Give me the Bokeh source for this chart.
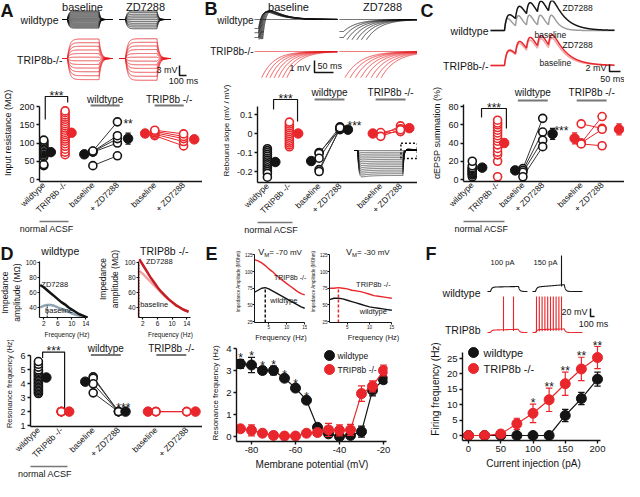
import math
import numpy as np
from bokeh.plotting import figure
from bokeh.layouts import row, column
from bokeh.models import Range1d, FixedTicker, LinearAxis
from bokeh.core.properties import value
from bokeh.embed import file_html
from bokeh.resources import INLINE

FONT = "Liberation Sans"
BLACK = "#141414"
RED = "#e8262b"
DARKRED = "#c41d24"
LIGHTRED = "#f4a3a4"
GRAY = "#9c9c9c"
BLUEGRAY = "#8fa5b6"
RULE = "#777777"
SLOT = 22.0

# ======================= DATA =======================
categories = ["wildtype", "TRIP8b -/-", "baseline", "+ ZD7288", "baseline", "+ ZD7288"]

# A: input resistance (MOhm)
A_wt = [38, 41, 62, 66, 70, 73, 76, 79, 82, 85, 88, 92, 96, 100, 104, 108]
A_trip = [68, 75, 83, 91, 98, 105, 111, 117, 123, 129, 135, 141, 147, 153, 159, 165, 171, 177, 183, 188]
A_wt_base = [38, 75, 76, 77, 78]
A_wt_zd = [65, 100, 112, 120, 158]
A_trip_base = [120, 124, 128, 132, 135]
A_trip_zd = [92, 104, 112, 118, 125]
A_means = [75, 128, 69, 112, 126, 110]
A_errs = [4, 7, 5, 15, 3, 5]

# B: rebound slope (mV/mV)
B_wt = [-0.08, -0.09, -0.10, -0.11, -0.12, -0.13, -0.14, -0.15, -0.16, -0.17, -0.18, -0.19, -0.20, -0.21, -0.23]
B_trip = [-0.07, -0.06, -0.05, -0.04, -0.03, -0.02, -0.01, 0.0, 0.01, 0.02, 0.03, 0.04, 0.05, 0.06]
B_wt_base = [-0.100, -0.105, -0.130, -0.190, -0.200]
B_wt_zd = [0.020, 0.035, 0.030, 0.025, 0.030]
B_trip_base = [0.000, -0.010, 0.005, -0.015]
B_trip_zd = [0.010, 0.040, 0.025, 0.020]
B_means = [-0.150, 0.000, -0.145, 0.020, 0.000, 0.028]
B_errs = [0.010, 0.010, 0.015, 0.005, 0.005, 0.008]

# C: aEPSP summation (%)
C_wt = [3, 5, 6, 7, 8, 9, 10, 11, 12, 13, 15, 20]
C_trip = [3, 20, 27, 30, 34, 38, 42, 45, 48, 51, 54, 57, 60, 62, 65]
C_wt_base = [12, 10, 8, 3]
C_wt_zd = [67, 52, 43, 36]
C_trip_base = [61, 40, 40, 39]
C_trip_zd = [56, 69, 55, 37]
C_means = [13, 40, 10, 50, 45, 55]
C_errs = [2, 4, 2, 6, 6, 6]

# D: resonance frequency (Hz)
D_wt = [3.3, 3.4, 3.5, 3.6, 3.7, 3.8, 3.9, 4.0, 4.1, 4.2, 4.3, 4.4, 4.5, 4.6, 4.7, 4.8, 4.9, 5.0, 5.2, 5.4, 5.6]
D_trip = [2.0, 2.0, 2.0, 2.0, 2.0, 2.0]
D_wt_base = [4.5, 4.4, 4.0, 3.35]
D_wt_zd = [2.0, 2.0, 2.0, 2.0]
D_trip_base = [2.0, 2.0, 2.0]
D_trip_zd = [2.0, 2.0, 2.0]
D_means = [4.45, 2.0, 4.15, 2.0, 2.0, 2.0]
D_errs = [0.1, 0.0, 0.2, 0.0, 0.0, 0.0]

# D insets: impedance amplitude (MOhm) vs frequency (Hz)
D_freq = [1, 2, 3, 4, 5, 6, 7, 8, 9, 10, 11, 12, 13, 14, 14.5]
D_wt_zd_imp = [70, 67, 63, 59, 55, 51, 47, 44, 40, 37, 34, 31, 29, 27, 26]
D_wt_base_imp = [40, 42, 43, 43, 42, 40, 38, 36, 34, 32, 30, 29, 27, 26, 25.5]
D_trip_zd_imp = [105, 97, 89, 81, 74, 67, 61, 56, 51, 47, 43, 40, 37, 35, 34]
D_trip_base_imp = [89, 85, 80, 75, 70, 65, 60, 55, 51, 47, 43, 40, 37, 35, 34]

# E insets
E_freq = [1, 2, 3, 4, 5, 6, 7, 8, 9, 10, 11, 12, 13, 14, 15]
E70_trip = [118, 116, 113, 109, 104, 100, 95, 90, 86, 82, 78, 74, 70, 67, 65]
E70_wt = [69, 72, 75, 76, 74, 71, 68, 65, 62, 59, 56, 53, 50, 47, 45]
E30_trip = [75, 75, 76, 75, 74, 72, 71, 70, 68, 66, 64, 63, 62, 61, 60]
E30_wt = [58, 60, 60, 59, 57, 55, 53, 51, 49, 47, 46, 45, 44, 43, 42]

# E main: resonance frequency vs membrane potential
E_vm = [-85, -80, -75, -70, -65, -60, -55, -50, -45, -40, -35, -30, -25, -20]
E_wt = [3.3, 3.25, 3.0, 3.0, 2.65, 2.2, 1.65, 0.42, 0.12, 0.0, 0.05, 0.22, 2.1, 2.58]
E_wt_err = [0.2, 0.35, 0.15, 0.2, 0.1, 0.15, 0.1, 0.1, 0.1, 0.05, 0.1, 0.25, 0.25, 0.1]
E_trip = [0.35, 0.28, 0.15, 0.05, 0.02, 0.02, 0.15, 0.18, 0.3, 0.28, 0.3, 1.95, 2.28, 3.0]
E_trip_err = [0.15, 0.25, 0.1, 0.1, 0.1, 0.1, 0.1, 0.1, 0.3, 0.25, 0.25, 0.35, 0.25, 0.25]
E_sig_vm = [-85, -80, -75, -70, -65, -60, -55]
legend_labels = ["wildtype", "TRIP8b -/-"]

# F: firing frequency vs current injection
F_pA = [0, 25, 50, 75, 100, 125, 150, 175, 200]
F_wt = [0, 0, 0, 0, 0, 0, 6.5, 12, 18.3]
F_wt_err = [0.4, 0.4, 0.4, 0.4, 0.4, 0.4, 2.0, 2.0, 2.3]
F_trip = [0, 0, 0.5, 3.8, 7.2, 11.6, 16.8, 21.6, 25.3]
F_trip_err = [0.4, 0.4, 0.6, 1.8, 3.0, 3.8, 3.8, 3.8, 3.6]
F_sig_pA = [100, 125, 150, 175, 200]
F_sig = ["*", "**", "**", "**", "**"]

# example traces (mV, ms)
A_wt_base_steps = [-2.6, -2.25, -1.9, -1.55, -1.2, -0.85, -0.5, -0.15, 0.2, 0.55, 0.9, 1.25, 1.6, 1.95, 2.3, 2.6]
A_wt_zd_steps = [-2.8, -2.25, -1.7, -1.15, -0.6, -0.05, 0.5, 1.05, 1.6, 2.15, 2.6]
A_trip_base_steps = [-6.4, -5.2, -4.0, -2.9, -1.8, -0.7, 0.4, 1.5, 2.6, 3.7, 4.8, 5.9]
A_trip_zd_steps = [-6.6, -5.4, -4.2, -3.0, -1.9, -0.8, 0.4, 1.5, 2.7, 3.8, 4.9, 6.0]
A_step_ms = 450

B_wt_base_depth = [0, 0.75, 1.1, 1.5, 2.2, 3.2, 4.5, 6.5, 9.0]
B_wt_base_rebound = [0.0, 1.6, 1.75, 1.9, 2.05, 2.2, 2.35, 2.5, 2.6]
B_wt_zd_depth = [0, 1.0, 1.5, 2.2, 3.2, 4.6, 6.5, 9.5]
B_trip_base_depth = [0, 2.4, 3.4, 4.8, 6.8, 9.5, 13.5, 19.0]
B_trip_zd_depth = [0, 2.4, 3.4, 4.8, 6.8, 9.5, 13.5, 19.0, 26.0]
B_inset_steps = [0, -1, -2, -3, -4, -5, -6, -7, -8, -9, -10, -11, -12, -13, -14]

C_interval_ms = 50
C_n_pulses = 5
C_wt_base_amp, C_wt_zd_amp = 3.4, 4.5
C_trip_base_amp, C_trip_zd_amp = 4.1, 4.4

F_wt100_spikes = []
F_wt150_spikes = [650]
F_trip100_spikes = [325, 575]
F_trip150_spikes = [25, 95, 165, 235, 305, 375, 445, 515, 585, 650]


# ======================= HELPERS =======================
def lin(v1, p1, v2, p2):
    k = (v2 - v1) / (p2 - p1)
    return lambda px: v1 + (px - p1) * k


def make_fig(w, h, xr, yr, left=0, right=0, top=0, bottom=0, axes=True):
    kw = {} if axes else dict(x_axis_location=None, y_axis_location=None)
    p = figure(width=w, height=h, x_range=Range1d(*xr), y_range=Range1d(*yr),
               output_backend="svg", toolbar_location=None, title=None,
               min_border_left=left, min_border_right=right,
               min_border_top=top, min_border_bottom=bottom, frame_align=False, **kw)
    p.outline_line_color = None
    p.background_fill_color = "white"
    p.border_fill_color = "white"
    for g in p.grid:
        g.visible = False
    return p


def style_axes(p, tick_fs=9, label_fs=9.5, lw=1.4, tick_out=3, std=2):
    for ax in p.axis:
        ax.axis_line_color = BLACK
        ax.axis_line_width = lw
        ax.major_tick_line_color = BLACK
        ax.major_tick_line_width = lw
        ax.major_tick_in = 0
        ax.major_tick_out = tick_out
        ax.minor_tick_line_color = None
        ax.major_label_text_font = FONT
        ax.major_label_text_font_size = f"{tick_fs}px"
        ax.major_label_text_color = BLACK
        ax.axis_label_text_font = FONT
        ax.axis_label_text_font_size = f"{label_fs}px"
        ax.axis_label_text_font_style = "normal"
        ax.axis_label_text_color = BLACK
        ax.major_label_standoff = std
        ax.axis_label_standoff = std + 1


def T(p, x, y, s, size, align="left", baseline="middle", color=BLACK, style="normal", **kw):
    p.text(x=[x], y=[y], text=[s], text_font=value(FONT), text_font_size=f"{size}px",
           text_align=align, text_baseline=baseline, text_color=color,
           text_font_style=style, **kw)


def errbars(p, x, y, e, color, cap, width=1.2):
    lo = [a - b for a, b in zip(y, e)]
    hi = [a + b for a, b in zip(y, e)]
    p.segment(x, lo, x, hi, line_color=color, line_width=width)
    p.segment([v - cap for v in x], hi, [v + cap for v in x], hi, line_color=color, line_width=width)
    p.segment([v - cap for v in x], lo, [v + cap for v in x], lo, line_color=color, line_width=width)


def dot_panel(w, h, left, right, bottom, ftop, fbot, fy, yticks, ytop, ylabel,
              xc, off, pools, means, errs, yover=None, osize=8, fsize=9.5, ylabel_fs=9):
    p = make_fig(w, h, (0, (w - left - right) / SLOT), (fy(fbot), fy(ftop)), left, right, 0, bottom)
    style_axes(p, 9, ylabel_fs)
    p.yaxis.ticker = FixedTicker(ticks=yticks)
    p.yaxis.bounds = (fy(fbot), ytop)
    p.yaxis.axis_label = ylabel
    if yover:
        p.yaxis.major_label_overrides = yover
    p.xaxis.ticker = FixedTicker(ticks=xc)
    p.xaxis.major_label_overrides = {x: c for x, c in zip(xc, categories)}
    p.xaxis.major_label_orientation = math.pi / 4
    p.xaxis.major_tick_line_color = None
    p.xaxis.major_tick_out = 0
    p.xaxis.major_label_standoff = 2
    p.xaxis.major_label_text_font_size = "8.5px"
    cols = [BLACK, RED, BLACK, BLACK, RED, RED]
    wb, wz, tb, tz = pools[2], pools[3], pools[4], pools[5]
    p.segment([xc[2]] * len(wb), wb, [xc[3]] * len(wz), wz, line_color="#333333", line_width=1)
    p.segment([xc[4]] * len(tb), tb, [xc[5]] * len(tz), tz, line_color=RED, line_width=1)
    for xi, vals, col in zip(xc, pools, cols):
        p.scatter([xi] * len(vals), vals, size=osize, marker="circle", fill_color="white",
                  line_color=col, line_width=1.6)
    mx = [a + b for a, b in zip(xc, off)]
    errbars(p, mx, means, errs, cols, 0.12)
    p.scatter(mx, means, size=fsize, marker="circle", fill_color=cols, line_color=cols)
    return p, mx


def bracket(p, x0, x1, ytop, y0, y1, s="***"):
    p.line([x0, x0, x1, x1], [y0, ytop, ytop, y1], line_color=BLACK, line_width=1.2)
    T(p, (x0 + x1) / 2, ytop, s, 12, "center", "alphabetic", y_offset=-1)


def groups(p, xc, ytext, yline, half=0.68):
    for i0, s in [(2, "wildtype"), (4, "TRIP8b -/-")]:
        cx = (xc[i0] + xc[i0 + 1]) / 2
        T(p, cx, ytext, s, 10, "center", "middle")
        p.segment([cx - half], [yline], [cx + half], [yline], line_color=RULE, line_width=2)


def acsf(p, x0, x1):
    # second bottom axis: a short rule under the first two categories, labelled "normal ACSF"
    c = (x0 + x1) / 2
    ax = LinearAxis(bounds=(x0, x1), ticker=FixedTicker(ticks=[c]),
                    major_label_overrides={c: "normal ACSF"},
                    axis_line_color=RULE, axis_line_width=1.5,
                    major_tick_line_color=None, minor_tick_line_color=None, major_tick_out=0,
                    major_label_text_font=FONT, major_label_text_font_size="9px",
                    major_label_text_color=BLACK, major_label_standoff=2)
    p.add_layout(ax, "below")


def step_family(t, t_on, dur, levels, tau, offset):
    xs, ys = [], []
    for ss in levels:
        v = np.zeros_like(t)
        on = (t >= t_on) & (t < t_on + dur)
        dt = t[on] - t_on
        v[on] = ss * (1 - np.exp(-dt / tau))
        v_end = v[on][-1]
        post = t >= t_on + dur
        v[post] = v_end * np.exp(-(t[post] - t_on - dur) / tau)
        xs.append(t.tolist())
        ys.append((v + offset).tolist())
    return xs, ys


def rebound_family(t, t_rel, depths, boosts, tau, tau_r, tau_d, floor, offset):
    xs, ys = [], []
    for A, B in zip(depths, boosts):
        dt = np.clip(t - t_rel, 0, None)
        v = -A * np.exp(-dt / tau) + B * (np.exp(-dt / tau_d) - np.exp(-dt / tau_r))
        v = np.where(v < floor, np.nan, v)
        xs.append(t.tolist())
        ys.append((v + offset).tolist())
    return xs, ys


def epsp_train(t, onsets, amp, tau_r, tau_d, offset):
    tp = math.log(tau_d / tau_r) * tau_d * tau_r / (tau_d - tau_r)
    norm = math.exp(-tp / tau_d) - math.exp(-tp / tau_r)
    v = np.zeros_like(t)
    for o in onsets:
        dt = t - o
        m = dt > 0
        v[m] += amp * (np.exp(-dt[m] / tau_d) - np.exp(-dt[m] / tau_r)) / norm
    return v + offset


def spike_trace(t, t_on, dur, ss, tau, ramp, spikes, peak, offset):
    v = np.zeros_like(t)
    on = (t >= t_on) & (t < t_on + dur)
    dt = t[on] - t_on
    v[on] = ss * (1 - np.exp(-dt / tau)) + ramp * dt / dur
    v_end = v[on][-1]
    post = t >= t_on + dur
    v[post] = v_end * np.exp(-(t[post] - t_on - dur) / tau)
    for s in spikes:
        i = int(np.searchsorted(t, t_on + s))
        v[i] = peak
        if i + 1 < len(v):
            v[i + 1] = v[i - 1] - 4
    return v + offset


def scalebar(p, x0, y0, dx, dy, color=BLACK):
    p.line([x0, x0, x0 + dx], [y0 + dy, y0, y0], line_color=color, line_width=1.5)


# ======================= PANEL A =======================
XA = lambda px: (px - 8) / 0.07
YA = lambda py: -(py - 8) / 3.3
pA_tr = make_fig(202, 84, (0, 202 / 0.07), (-84 / 3.3, 0), axes=False)
tA1 = np.arange(XA(70), XA(120), 1.0)
tA2 = np.arange(XA(127), XA(178), 1.0)
for tt, on, levels, tau, off, col in [
        (tA1, XA(75), A_wt_base_steps, 18, YA(27), BLACK),
        (tA2, XA(133), A_wt_zd_steps, 22, YA(27), BLACK),
        (tA1, XA(75), A_trip_base_steps, 30, YA(66), RED),
        (tA2, XA(133), A_trip_zd_steps, 30, YA(66), RED)]:
    xs, ys = step_family(tt, on, A_step_ms, levels, tau, off)
    pA_tr.multi_line(xs, ys, line_color=col, line_width=0.8)
scalebar(pA_tr, XA(187), YA(83), 100, 3)
T(pA_tr, XA(185), YA(77), "3 mV", 9, "right")
T(pA_tr, XA(191), YA(88), "100 ms", 9, "center")
T(pA_tr, XA(90), YA(8), "baseline", 11, "center", "top")
T(pA_tr, XA(153), YA(8), "ZD7288", 11, "center", "top")
T(pA_tr, XA(66), YA(27), "wildtype", 10.5, "right")
T(pA_tr, XA(70), YA(67), "TRIP8b-/-", 10.5, "right")
T(pA_tr, XA(8), YA(8), "A", 18, "left", "top", style="bold")

fyA = lin(200, 114, 0, 187)
xcA = [0.2, 1.2, 2.5, 3.65, 5.4, 6.75]
offA = [0.33, 0.3, -0.4, 0.5, -0.45, 0.5]
pA, mxA = dot_panel(202, 156, 34, 0, 59, 92, 189, fyA, [0, 50, 100, 150, 200], 200,
                    "Input resistance (MΩ)", xcA, offA,
                    [A_wt, A_trip, A_wt_base, A_wt_zd, A_trip_base, A_trip_zd], A_means, A_errs)
bracket(pA, 0.27, 1.32, fyA(104), fyA(127), fyA(110))
groups(pA, xcA, fyA(107), fyA(113))
T(pA, mxA[3], fyA(131), "**", 12, "center", "alphabetic")
acsf(pA, -0.68, 1.36)

# ======================= PANEL B =======================
XB = lambda px: (px - 210) / 0.38
YB = lambda py: -(py - 8) / 12.0
pB_tr = make_fig(215, 78, (0, 215 / 0.38), (-78 / 12.0, 0), axes=False)
tB1 = np.arange(XB(262), XB(345), 0.5)
tB2 = np.arange(XB(347), XB(425), 0.5)
xs, ys = rebound_family(tB1, XB(266), B_wt_base_depth, B_wt_base_rebound, 9, 10, 35, -1.7, YB(27))
pB_tr.multi_line(xs, ys, line_color=BLACK, line_width=0.8)
xs, ys = rebound_family(tB2, XB(351), B_wt_zd_depth, [0] * len(B_wt_zd_depth), 35, 15, 70, -1.7, YB(27))
pB_tr.multi_line(xs, ys, line_color=BLACK, line_width=0.8)
xs, ys = rebound_family(tB1, XB(268), B_trip_base_depth, [0] * len(B_trip_base_depth), 32, 15, 70, -2.2, YB(59))
pB_tr.multi_line(xs, ys, line_color=RED, line_width=0.8)
xs, ys = rebound_family(tB2, XB(351), B_trip_zd_depth, [0] * len(B_trip_zd_depth), 40, 15, 70, -2.2, YB(59))
pB_tr.multi_line(xs, ys, line_color=RED, line_width=0.8)
scalebar(pB_tr, XB(322), YB(80), 50, 1)
T(pB_tr, XB(318), YB(75), "1 mV", 9, "right")
T(pB_tr, XB(325), YB(73), "50 ms", 9, "left")
T(pB_tr, XB(296), YB(8), "baseline", 11, "center", "top")
T(pB_tr, XB(390), YB(8), "ZD7288", 11, "center", "top")
T(pB_tr, XB(261), YB(28), "wildtype", 10, "right")
T(pB_tr, XB(261), YB(59), "TRIP8b-/-", 10, "right")
T(pB_tr, XB(212), YB(6), "B", 18, "left", "top", style="bold")

fyB = lin(0.1, 122, -0.2, 179)
xcB = [0.45, 1.45, 2.8, 3.75, 5.6, 6.5]
offB = [0.36, 0.4, -0.36, 0.36, -0.36, 0.4]
pB, mxB = dot_panel(215, 162, 55, 0, 58, 86, 190, fyB, [-0.2, -0.1, 0, 0.1], 0.14,
                    "Rebound slope (mV / mV)", xcB, offB,
                    [B_wt, B_trip, B_wt_base, B_wt_zd, B_trip_base, B_trip_zd], B_means, B_errs,
                    yover={-0.2: "-0.2", -0.1: "-0.1", 0: "0", 0.1: "0.1"}, ylabel_fs=8)
bracket(pB, 0.73, 1.82, fyB(107), fyB(117), fyB(129))
groups(pB, xcB, fyB(100), fyB(107))
T(pB, mxB[3] + 0.3, fyB(133), "***", 12, "center", "alphabetic")
acsf(pB, -0.36, 1.6)
# inset: hyperpolarizing step family
ins_ppm = (425 - 362) / 780.0
ins_ppv = (183 - 158) / 14.0
pB.extra_x_ranges = {"ix": Range1d(-(362 - 265) / ins_ppm, 780)}
pB.extra_y_ranges = {"iy": Range1d(-(190 - 158) / ins_ppv, (158 - 86) / ins_ppv)}
t_in = np.arange(0, 781, 2.0)
xs, ys = [], []
for L in B_inset_steps:
    v = np.zeros_like(t_in)
    on = (t_in >= 40) & (t_in < 600)
    dt = t_in[on] - 40
    v[on] = L * (1 - np.exp(-dt / 12)) * (1 + 0.12 * np.exp(-dt / 90))
    v_end = v[on][-1]
    post = t_in >= 600
    dp = t_in[post] - 600
    v[post] = v_end * np.exp(-dp / 12) - L * 0.12 * (np.exp(-dp / 120) - np.exp(-dp / 25))
    xs.append(t_in.tolist())
    ys.append(v.tolist())
pB.multi_line(xs, ys, x_range_name="ix", y_range_name="iy", line_color=BLACK, line_width=0.6)
pB.quad(left=[575], right=[778], bottom=[-4.5], top=[4], x_range_name="ix", y_range_name="iy",
        fill_color=None, line_color=BLACK, line_width=1.5, line_dash="2 2")

# ======================= PANEL C =======================
XC = lambda px: (px - 425) / 0.22
YC = lambda py: -(py - 8) / 3.5
pC_tr = make_fig(207, 84, (0, 207 / 0.22), (-84 / 3.5, 0), axes=False)
tC = np.arange(XC(498), XC(622), 0.5)
onsets = [XC(512) + C_interval_ms * k for k in range(C_n_pulses)]
pC_tr.line(tC, epsp_train(tC, onsets, C_wt_base_amp, 10, 26, YC(38)), line_color=GRAY, line_width=1.5)
pC_tr.line(tC, epsp_train(tC, onsets, C_wt_zd_amp, 12, 55, YC(38)), line_color=BLACK, line_width=1.5)
pC_tr.line(tC, epsp_train(tC, onsets, C_trip_base_amp, 12, 55, YC(73)), line_color=LIGHTRED, line_width=1.5)
pC_tr.line(tC, epsp_train(tC, onsets, C_trip_zd_amp, 12, 60, YC(73)), line_color=RED, line_width=1.5)
scalebar(pC_tr, XC(617), YC(79), 50, 2)
T(pC_tr, XC(614), YC(75), "2 mV", 9, "right")
T(pC_tr, XC(620), YC(86), "50 ms", 9, "center")
T(pC_tr, XC(570), YC(15), "ZD7288", 8.5)
T(pC_tr, XC(542), YC(42), "baseline", 8.5)
T(pC_tr, XC(570), YC(52), "ZD7288", 8.5)
T(pC_tr, XC(547), YC(70), "baseline", 8.5)
T(pC_tr, XC(496), YC(38), "wildtype", 10.5, "right")
T(pC_tr, XC(496), YC(73), "TRIP8b-/-", 10.5, "right")
T(pC_tr, XC(428), YC(8), "C", 18, "left", "top", style="bold")

fyC = lin(80, 114, 0, 187)
xcC = [0.4, 1.55, 2.7, 3.6, 5.35, 6.3]
offC = [0.45, 0.3, -0.35, 0.45, -0.3, 0.77]
pC, mxC = dot_panel(207, 156, 46, 0, 59, 92, 189, fyC, [0, 20, 40, 60, 80], 82,
                    "αEPSP summation (%)", xcC, offC,
                    [C_wt, C_trip, C_wt_base, C_wt_zd, C_trip_base, C_trip_zd], C_means, C_errs)
bracket(pC, 0.82, 1.95, fyC(116), fyC(125), fyC(136))
groups(pC, xcC, fyC(100), fyC(108))
T(pC, mxC[3] + 0.4, fyC(138), "***", 12, "center", "alphabetic")
acsf(pC, -0.23, 1.86)

# ======================= PANEL D =======================
fyDi = lin(100, 272, 40, 320)
stripD = make_fig(22, 100, (0, 22), (-100, 0), axes=False)
T(stripD, 0, -3, "D", 18, "left", "top", style="bold")
T(stripD, 10.5, -(300 - 248), "Impedance\namplitude (MΩ)", 8.5, "center", "middle", angle=math.pi / 2)

pDi1 = make_fig(72, 100, (0.8, 0.8 + 59 / 3.768), (fyDi(331), fyDi(248)), 13, 0, 0, 17)
pDi2 = make_fig(108, 100, (0.8, 0.8 + 77 / 4.397), (fyDi(331), fyDi(248)), 31, 0, 0, 17)
for p, xb in ((pDi1, 14.6), (pDi2, 14.9)):
    style_axes(p, 6.5, 8.5, 1.2, 2, 1)
    p.xaxis.axis_label_text_font_size = "6.5px"
    p.xaxis.ticker = FixedTicker(ticks=[2, 6, 10, 14])
    p.yaxis.ticker = FixedTicker(ticks=[40, 60, 80, 100])
    p.yaxis.bounds = (fyDi(331), 102)
    p.xaxis.bounds = (0.8, xb)
    p.xaxis.axis_label = "Frequency (Hz)"
pDi2.yaxis.axis_label = "Impedance\namplitude (MΩ)"
pDi1.line(D_freq, D_wt_base_imp, line_color=BLUEGRAY, line_width=2.5)
pDi1.line(D_freq, D_wt_zd_imp, line_color=BLACK, line_width=2.5)
pk = D_freq[int(np.argmax(D_wt_base_imp))]
pDi1.segment([pk], [fyDi(331)], [pk], [max(D_wt_base_imp)], line_color=BLACK, line_width=1, line_dash="2 1")
fxDi1 = lin(0.8, 43, 14.6, 95)
T(pDi1, fxDi1(45), fyDi(295), "ZD7288", 7.5)
T(pDi1, fxDi1(49), fyDi(323), "baseline", 7.5)
T(pDi1, fxDi1(45), fyDi(259), "wildtype", 10.5)

pDi2.line(D_freq, D_trip_base_imp, line_color=LIGHTRED, line_width=2.5)
pDi2.line(D_freq, D_trip_zd_imp, line_color=DARKRED, line_width=2.5)
pk = D_freq[int(np.argmax(D_trip_base_imp))]
pDi2.segment([pk], [fyDi(331)], [pk], [100], line_color=DARKRED, line_width=1, line_dash="2 1")
fxDi2 = lin(0.8, 133, 14.9, 195)
T(pDi2, fxDi2(142), fyDi(271), "ZD7288", 7.5)
T(pDi2, fxDi2(135), fyDi(317), "baseline", 7.5)
T(pDi2, fxDi2(164), fyDi(259), "TRIP8b -/-", 10.5, "center")

fyD = lin(6, 364, 1, 436)
xcD = [0.36, 1.4, 2.85, 4.0, 5.7, 7.1]
offD = [0.36, 0.36, -0.36, 0.32, -0.36, 0.4]
pD, mxD = dot_panel(202, 141, 30, 0, 52, 348, 437, fyD, [1, 2, 3, 4, 5, 6], 6,
                    "Resonance frequency (Hz)", xcD, offD,
                    [D_wt, D_trip, D_wt_base, D_wt_zd, D_trip_base, D_trip_zd], D_means, D_errs,
                    ylabel_fs=7.5)
bracket(pD, 0.55, 1.55, fyD(360), fyD(366), fyD(418))
groups(pD, xcD, fyD(356), fyD(363))
T(pD, mxD[3] - 0.1, fyD(418), "***", 12, "center", "alphabetic")
acsf(pD, -0.36, 1.68)

# ======================= PANEL E =======================
fyEi = lin(125, 264, 25, 338)
stripE = make_fig(30, 104, (0, 30), (-104, 0), axes=False)
T(stripE, 3, -3, "E", 18, "left", "top", style="bold")
pEi1 = make_fig(75, 104, (1, 1 + 57 / 3.857), (fyEi(339), fyEi(248)), 18, 0, 0, 13)
pEi2 = make_fig(110, 104, (1, 1 + 96 / 4.857), (fyEi(339), fyEi(248)), 14, 0, 0, 13)
for p in (pEi1, pEi2):
    style_axes(p, 4.5, 4.5, 1.0, 2, 0)
    p.xaxis.axis_label_text_font_size = "7.5px"
    p.xaxis.ticker = FixedTicker(ticks=[5, 10, 15])
    p.yaxis.ticker = FixedTicker(ticks=[25, 50, 75, 100, 125])
    p.yaxis.bounds = (fyEi(339), 125)
    p.xaxis.bounds = (1, 15)
    p.xaxis.axis_label = "Frequency (Hz)"
    p.yaxis.axis_label = "Impedance Amplitude (MOhm)"
pEi1.line(E_freq, E70_trip, line_color=RED, line_width=1.4)
pEi1.line(E_freq, E70_wt, line_color=BLACK, line_width=1.4)
pk = E_freq[int(np.argmax(E70_wt))]
pEi1.segment([pk], [fyEi(339)], [pk], [max(E70_wt)], line_color=BLACK, line_width=1.5, line_dash="3 2")
pEi2.line(E_freq, E30_trip, line_color=RED, line_width=1.4)
pEi2.line(E_freq, E30_wt, line_color=BLACK, line_width=1.4)
pk = E_freq[int(np.argmax(E30_trip))]
pEi2.segment([pk], [fyEi(339)], [pk], [max(E30_trip)], line_color=RED, line_width=1.5, line_dash="3 2")
fxEi1 = lin(1, 258, 15, 312)
fxEi2 = lin(1, 329, 15, 397)
for p, fx, x0, s in [(pEi1, fxEi1, 262, " = -70 mV"), (pEi2, fxEi2, 347, " = -30 mV")]:
    T(p, fx(x0), fyEi(261), "V", 9)
    T(p, fx(x0), fyEi(261), "M", 6, x_offset=6, y_offset=2.5)
    T(p, fx(x0), fyEi(261), s, 8, x_offset=11)
T(pEi1, fxEi1(279), fyEi(289), "TRIP8b -/-", 7)
T(pEi1, fxEi1(275), fyEi(315), "wildtype", 7.5)
T(pEi2, fxEi2(358), fyEi(297), "TRIP8b -/-", 7.5)
T(pEi2, fxEi2(362), fyEi(327), "wildtype", 7.5)

fyE = lin(4, 356, 0, 444)
fxE = lin(-80, 259, -20, 391)
pE = make_fig(215, 137, (fxE(244), fxE(395)), (fyE(449), fyE(352)), 34, 30, 0, 40)
style_axes(pE, 9.5, 10)
pE.yaxis.axis_label_text_font_size = "8px"
pE.xaxis.ticker = FixedTicker(ticks=[-80, -60, -40, -20])
pE.xaxis.major_label_overrides = {v: str(v) for v in [-80, -60, -40, -20]}
pE.yaxis.ticker = FixedTicker(ticks=[0, 1, 2, 3, 4])
pE.yaxis.bounds = (fyE(449), 4)
pE.xaxis.bounds = (fxE(244), fxE(394))
pE.xaxis.axis_label = "Membrane potential (mV)"
pE.yaxis.axis_label = "Resonance frequency (Hz)"
errbars(pE, E_vm, E_wt, E_wt_err, BLACK, 1.6)
pE.line(E_vm, E_wt, line_color=BLACK, line_width=1.2)
pE.scatter(E_vm, E_wt, size=10, marker="circle", color=BLACK)
errbars(pE, E_vm, E_trip, E_trip_err, RED, 1.6)
pE.line(E_vm, E_trip, line_color=RED, line_width=1.2)
pE.scatter(E_vm, E_trip, size=10, marker="circle", color=RED)
for v in E_sig_vm:
    i = E_vm.index(v)
    T(pE, v, E_wt[i] + E_wt_err[i] + 0.05, "*", 12, "center", "alphabetic")
for k, (lbl, col) in enumerate(zip(legend_labels, [BLACK, RED])):
    yy = fyE(363 + 14 * k)
    pE.scatter([fxE(337)], [yy], size=10, marker="circle", color=col)
    T(pE, fxE(345), yy, lbl, 8.5)

# ======================= PANEL F =======================
XF = lambda px: (px - 425) / 0.04
YF = lambda py: -(py - 248) / 0.4
pF_tr = make_fig(207, 97, (0, 207 / 0.04), (-97 / 0.4, 0), axes=False)
tF1 = np.arange(XF(495), XF(535), 1.0)
tF2 = np.arange(XF(540), XF(590), 1.0)
pF_tr.line(tF1, spike_trace(tF1, XF(498), 700, 11, 30, 1.5, F_wt100_spikes, 90, YF(299)), line_color=BLACK, line_width=1.1)
pF_tr.line(tF2, spike_trace(tF2, XF(543), 720, 11, 30, 6, F_wt150_spikes, 90, YF(299)), line_color=BLACK, line_width=1.1)
pF_tr.line(tF1, spike_trace(tF1, XF(498), 700, 6, 30, 2, F_trip100_spikes, 90, YF(340)), line_color=RED, line_width=1.1)
pF_tr.line(tF2, spike_trace(tF2, XF(543), 720, 7, 30, 2, F_trip150_spikes, 90, YF(340)), line_color=RED, line_width=1.1)
scalebar(pF_tr, XF(598), YF(324), 100, 20)
T(pF_tr, XF(595), YF(319), "20 mV", 9, "right")
T(pF_tr, XF(601), YF(331), "100 ms", 9, "center")
T(pF_tr, XF(510), YF(270), "100 pA", 7.5, "center")
T(pF_tr, XF(553), YF(270), "150 pA", 7.5, "center")
T(pF_tr, XF(488), YF(300), "wildtype", 10.5, "right")
T(pF_tr, XF(488), YF(337), "TRIP8b", 10.5, "right")
T(pF_tr, XF(433), YF(251), "F", 18, "left", "top", style="bold")

fyF = lin(25, 366, 0, 443)
fxF = lin(0, 476, 200, 605)
pF = make_fig(207, 144, (fxF(470), fxF(612)), (fyF(448), fyF(345)), 45, 20, 0, 41)
style_axes(pF, 9.5, 10)
pF.xaxis.ticker = FixedTicker(ticks=[0, 50, 100, 150, 200])
pF.yaxis.ticker = FixedTicker(ticks=[0, 5, 10, 15, 20, 25])
pF.yaxis.bounds = (fyF(448), 27)
pF.xaxis.bounds = (fxF(470), 205)
pF.xaxis.axis_label = "Current injection (pA)"
pF.yaxis.axis_label = "Firing frequency (Hz)"
errbars(pF, F_pA, F_wt, F_wt_err, BLACK, 5)
pF.line(F_pA, F_wt, line_color=BLACK, line_width=1.2)
pF.scatter(F_pA, F_wt, size=10, marker="circle", color=BLACK)
errbars(pF, F_pA, F_trip, F_trip_err, RED, 5)
pF.line(F_pA, F_trip, line_color=RED, line_width=1.2)
pF.scatter(F_pA, F_trip, size=10, marker="circle", color=RED)
for v, s in zip(F_sig_pA, F_sig):
    i = F_pA.index(v)
    T(pF, v, F_trip[i] + F_trip_err[i] + 0.3, s, 12, "center", "alphabetic")
for k, (lbl, col) in enumerate(zip(legend_labels, [BLACK, RED])):
    yy = fyF(360 + 16 * k)
    pF.scatter([fxF(481)], [yy], size=10, marker="circle", color=col)
    T(pF, fxF(491), yy, lbl, 11)

# ======================= LAYOUT =======================
layout = column(
    row(column(pA_tr, pA), column(pB_tr, pB), column(pC_tr, pC)),
    row(column(row(stripD, pDi1, pDi2), pD),
        column(row(stripE, pEi1, pEi2), pE),
        column(pF_tr, pF)),
)
open("out.html", "w").write(file_html(layout, INLINE, "Figure"))
